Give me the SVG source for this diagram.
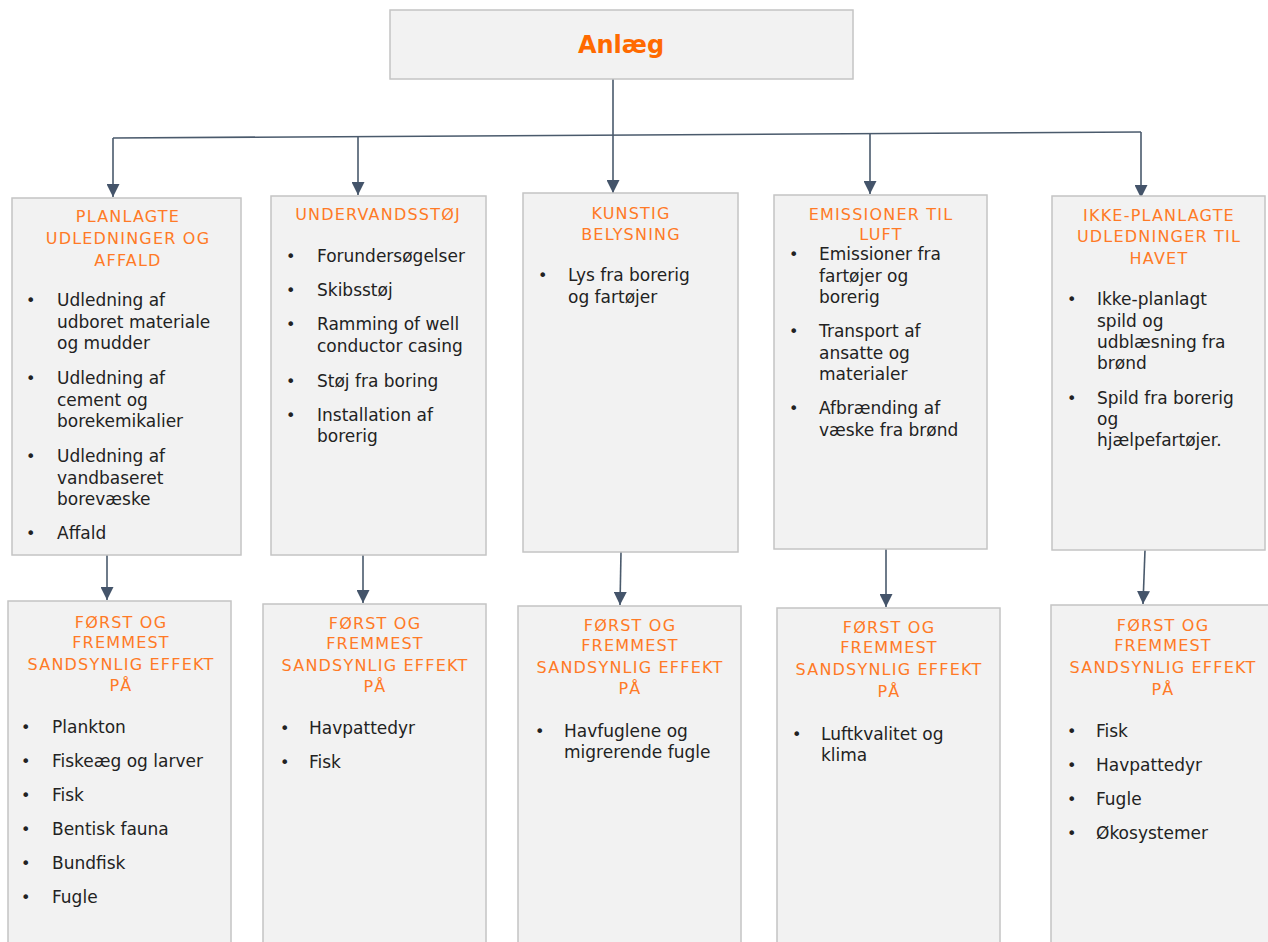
<svg xmlns="http://www.w3.org/2000/svg" width="1268" height="942" viewBox="0 0 1268 942">
<style>
.box{fill:#F2F2F2;stroke:#C4C4C4;stroke-width:1.5}
.ttl{font-family:"DejaVu Sans",Verdana,sans-serif;font-size:24px;font-weight:bold;fill:#FF6A00;text-anchor:middle}
.hd{font-family:"DejaVu Sans",Verdana,sans-serif;font-size:16px;letter-spacing:1.2px;fill:#FF7A26;text-anchor:middle}
.tx{font-family:"DejaVu Sans",Verdana,sans-serif;font-size:17px;fill:#222222}
.bl{font-family:"DejaVu Sans",Verdana,sans-serif;font-size:16px;fill:#222222}
.cn{stroke:#4A5A6C;stroke-width:1.6;fill:none}
</style>
<defs>
<marker id="ar2" viewBox="0 0 12 12" refX="12" refY="6" markerWidth="13" markerHeight="13" markerUnits="userSpaceOnUse" orient="auto">
<path d="M0,0 L12,6 L0,12 z" fill="#44546A"/>
</marker>
</defs>
<rect width="1268" height="942" fill="#FFFFFF"/>

<g id="connectors">
<line class="cn" x1="113" y1="138" x2="1141" y2="132"/>
<line class="cn" x1="613" y1="79" x2="613" y2="193" marker-end="url(#ar2)"/>
<line class="cn" x1="113" y1="138" x2="113" y2="197" marker-end="url(#ar2)"/>
<line class="cn" x1="358" y1="137" x2="358" y2="195" marker-end="url(#ar2)"/>
<line class="cn" x1="870" y1="134" x2="870" y2="194" marker-end="url(#ar2)"/>
<line class="cn" x1="1141" y1="132" x2="1141" y2="198" marker-end="url(#ar2)"/>
<line class="cn" x1="107" y1="555" x2="107" y2="600" marker-end="url(#ar2)"/>
<line class="cn" x1="363" y1="555" x2="363" y2="603" marker-end="url(#ar2)"/>
<line class="cn" x1="621" y1="552" x2="620" y2="605" marker-end="url(#ar2)"/>
<line class="cn" x1="886" y1="549" x2="886" y2="607" marker-end="url(#ar2)"/>
<line class="cn" x1="1145" y1="550" x2="1143" y2="604" marker-end="url(#ar2)"/>
</g>

<g id="anlaeg">
<rect class="box" x="390" y="10" width="463" height="69"/>
<text class="ttl" x="621" y="53">Anlæg</text>
</g>

<g id="planlagte">
<rect class="box" x="12" y="198" width="229" height="357"/>
<text class="hd" x="128" y="222">PLANLAGTE</text>
<text class="hd" x="128" y="244">UDLEDNINGER OG</text>
<text class="hd" x="128" y="266">AFFALD</text>
<text class="bl" x="26" y="306">•</text>
<text class="tx" x="57" y="306">Udledning af</text>
<text class="tx" x="57" y="328">udboret materiale</text>
<text class="tx" x="57" y="349">og mudder</text>
<text class="bl" x="26" y="384">•</text>
<text class="tx" x="57" y="384">Udledning af</text>
<text class="tx" x="57" y="406">cement og</text>
<text class="tx" x="57" y="427">borekemikalier</text>
<text class="bl" x="26" y="462">•</text>
<text class="tx" x="57" y="462">Udledning af</text>
<text class="tx" x="57" y="484">vandbaseret</text>
<text class="tx" x="57" y="505">borevæske</text>
<text class="bl" x="26" y="539">•</text>
<text class="tx" x="57" y="539">Affald</text>
</g>

<g id="undervandsstoej">
<rect class="box" x="271" y="196" width="215" height="359"/>
<text class="hd" x="378" y="220">UNDERVANDSSTØJ</text>
<text class="bl" x="286" y="262">•</text>
<text class="tx" x="317" y="262">Forundersøgelser</text>
<text class="bl" x="286" y="296">•</text>
<text class="tx" x="317" y="296">Skibsstøj</text>
<text class="bl" x="286" y="330">•</text>
<text class="tx" x="317" y="330">Ramming of well</text>
<text class="tx" x="317" y="352">conductor casing</text>
<text class="bl" x="286" y="387">•</text>
<text class="tx" x="317" y="387">Støj fra boring</text>
<text class="bl" x="286" y="421">•</text>
<text class="tx" x="317" y="421">Installation af</text>
<text class="tx" x="317" y="442">borerig</text>
</g>

<g id="kunstig">
<rect class="box" x="523" y="193" width="215" height="359"/>
<text class="hd" x="631" y="219">KUNSTIG</text>
<text class="hd" x="631" y="240">BELYSNING</text>
<text class="bl" x="538" y="281">•</text>
<text class="tx" x="568" y="281">Lys fra borerig</text>
<text class="tx" x="568" y="303">og fartøjer</text>
</g>

<g id="emissioner">
<rect class="box" x="774" y="195" width="213" height="354"/>
<text class="hd" x="881" y="220">EMISSIONER TIL</text>
<text class="hd" x="881" y="240">LUFT</text>
<text class="bl" x="789" y="260">•</text>
<text class="tx" x="819" y="260">Emissioner fra</text>
<text class="tx" x="819" y="282">fartøjer og</text>
<text class="tx" x="819" y="303">borerig</text>
<text class="bl" x="789" y="337">•</text>
<text class="tx" x="819" y="337">Transport af</text>
<text class="tx" x="819" y="359">ansatte og</text>
<text class="tx" x="819" y="380">materialer</text>
<text class="bl" x="789" y="414">•</text>
<text class="tx" x="819" y="414">Afbrænding af</text>
<text class="tx" x="819" y="436">væske fra brønd</text>
</g>

<g id="ikkeplanlagte">
<rect class="box" x="1052" y="196" width="213" height="354"/>
<text class="hd" x="1159" y="221">IKKE-PLANLAGTE</text>
<text class="hd" x="1159" y="242">UDLEDNINGER TIL</text>
<text class="hd" x="1159" y="264">HAVET</text>
<text class="bl" x="1067" y="305">•</text>
<text class="tx" x="1097" y="305">Ikke-planlagt</text>
<text class="tx" x="1097" y="327">spild og</text>
<text class="tx" x="1097" y="348">udblæsning fra</text>
<text class="tx" x="1097" y="369">brønd</text>
<text class="bl" x="1067" y="404">•</text>
<text class="tx" x="1097" y="404">Spild fra borerig</text>
<text class="tx" x="1097" y="425">og</text>
<text class="tx" x="1097" y="446">hjælpefartøjer.</text>
</g>

<g id="effekt1">
<rect class="box" x="8" y="601" width="223" height="345"/>
<text class="hd" x="121" y="628">FØRST OG</text>
<text class="hd" x="121" y="648">FREMMEST</text>
<text class="hd" x="121" y="670">SANDSYNLIG EFFEKT</text>
<text class="hd" x="121" y="691">PÅ</text>
<text class="bl" x="21" y="733">•</text>
<text class="tx" x="52" y="733">Plankton</text>
<text class="bl" x="21" y="767">•</text>
<text class="tx" x="52" y="767">Fiskeæg og larver</text>
<text class="bl" x="21" y="801">•</text>
<text class="tx" x="52" y="801">Fisk</text>
<text class="bl" x="21" y="835">•</text>
<text class="tx" x="52" y="835">Bentisk fauna</text>
<text class="bl" x="21" y="869">•</text>
<text class="tx" x="52" y="869">Bundfisk</text>
<text class="bl" x="21" y="903">•</text>
<text class="tx" x="52" y="903">Fugle</text>
</g>

<g id="effekt2">
<rect class="box" x="263" y="604" width="223" height="342"/>
<text class="hd" x="375" y="629">FØRST OG</text>
<text class="hd" x="375" y="649">FREMMEST</text>
<text class="hd" x="375" y="671">SANDSYNLIG EFFEKT</text>
<text class="hd" x="375" y="692">PÅ</text>
<text class="bl" x="280" y="734">•</text>
<text class="tx" x="309" y="734">Havpattedyr</text>
<text class="bl" x="280" y="768">•</text>
<text class="tx" x="309" y="768">Fisk</text>
</g>

<g id="effekt3">
<rect class="box" x="518" y="606" width="223" height="340"/>
<text class="hd" x="630" y="631">FØRST OG</text>
<text class="hd" x="630" y="651">FREMMEST</text>
<text class="hd" x="630" y="673">SANDSYNLIG EFFEKT</text>
<text class="hd" x="630" y="694">PÅ</text>
<text class="bl" x="535" y="737">•</text>
<text class="tx" x="564" y="737">Havfuglene og</text>
<text class="tx" x="564" y="758">migrerende fugle</text>
</g>

<g id="effekt4">
<rect class="box" x="777" y="608" width="223" height="338"/>
<text class="hd" x="889" y="633">FØRST OG</text>
<text class="hd" x="889" y="653">FREMMEST</text>
<text class="hd" x="889" y="675">SANDSYNLIG EFFEKT</text>
<text class="hd" x="889" y="697">PÅ</text>
<text class="bl" x="792" y="740">•</text>
<text class="tx" x="821" y="740">Luftkvalitet og</text>
<text class="tx" x="821" y="761">klima</text>
</g>

<g id="effekt5">
<rect class="box" x="1051" y="605" width="220" height="341"/>
<text class="hd" x="1163" y="631">FØRST OG</text>
<text class="hd" x="1163" y="651">FREMMEST</text>
<text class="hd" x="1163" y="673">SANDSYNLIG EFFEKT</text>
<text class="hd" x="1163" y="695">PÅ</text>
<text class="bl" x="1067" y="737">•</text>
<text class="tx" x="1096" y="737">Fisk</text>
<text class="bl" x="1067" y="771">•</text>
<text class="tx" x="1096" y="771">Havpattedyr</text>
<text class="bl" x="1067" y="805">•</text>
<text class="tx" x="1096" y="805">Fugle</text>
<text class="bl" x="1067" y="839">•</text>
<text class="tx" x="1096" y="839">Økosystemer</text>
</g>
</svg>
